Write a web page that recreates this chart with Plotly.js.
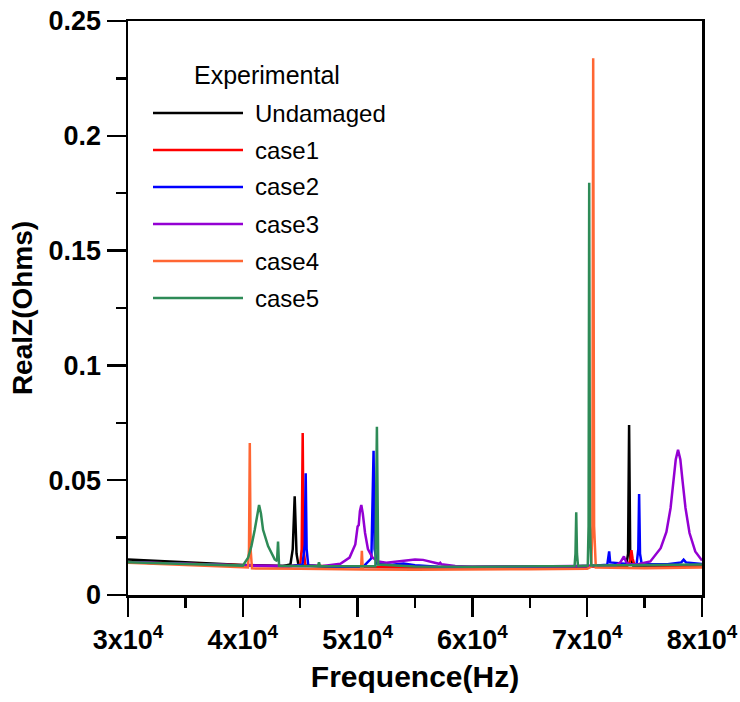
<!DOCTYPE html>
<html>
<head>
<meta charset="utf-8">
<script src="https://cdn.plot.ly/plotly-3.0.1.min.js"></script>
<style>html,body{margin:0;padding:0;background:#fff;}#chart{width:740px;height:702px;}</style>
</head>
<body>
<div id="chart"></div>
<script>
// ---- Data ----
var seriesNames = ["Undamaged", "case1", "case2", "case3", "case4", "case5"];
var seriesColors = ["#000000", "#ff0000", "#0000ff", "#9400d3", "#ff6633", "#2e8b57"];

var undamagedX = [30000, 35000, 40000, 43500, 44150, 44350, 44520, 44680, 44850, 47000, 50000, 55000, 60000, 65000, 70000, 73400, 73560, 73650, 73750, 74000, 77000, 80000];
var undamagedY = [0.0155, 0.0143, 0.0131, 0.0126, 0.0133, 0.020, 0.0430, 0.018, 0.0130, 0.0124, 0.0122, 0.0121, 0.0121, 0.0123, 0.0125, 0.0127, 0.018, 0.0740, 0.016, 0.0128, 0.0129, 0.0130];

var case1X = [30000, 35000, 40000, 44000, 45000, 45130, 45217, 45300, 45450, 50000, 55000, 60000, 65000, 70000, 73500, 73750, 73850, 73950, 74100, 77000, 80000];
var case1Y = [0.0143, 0.0136, 0.0128, 0.0125, 0.0132, 0.020, 0.0705, 0.020, 0.0128, 0.0122, 0.0121, 0.0121, 0.0122, 0.0124, 0.0127, 0.015, 0.0195, 0.016, 0.0132, 0.0129, 0.0130];

var case2X = [30000, 35000, 40000, 44000, 45200, 45400, 45478, 45560, 45700, 48000, 50500, 51200, 51391, 51480, 51700, 53000, 54000, 55000, 57000, 60000, 65000, 70000, 71750, 71850, 71913, 72000, 74300, 74450, 74522, 74600, 74750, 77000, 78200, 78400, 78600, 80000];
var case2Y = [0.0143, 0.0135, 0.0128, 0.0125, 0.0132, 0.022, 0.0530, 0.020, 0.0129, 0.0123, 0.0124, 0.016, 0.0628, 0.020, 0.0137, 0.0132, 0.0137, 0.0130, 0.0123, 0.0122, 0.0123, 0.0125, 0.0132, 0.0185, 0.0190, 0.0142, 0.0132, 0.020, 0.0440, 0.018, 0.0134, 0.0134, 0.0142, 0.0154, 0.0142, 0.0135];

var case3X = [30000, 35000, 40000, 44000, 47000, 48500, 49300, 49800, 50000, 50100, 50200, 50322, 50450, 50650, 50900, 51300, 51800, 52500, 53500, 54500, 55000, 55700, 56500, 57100, 57200, 57300, 58500, 60000, 65000, 70000, 72500, 72900, 73200, 73400, 73700, 74500, 75500, 76400, 76900, 77263, 77513, 77713, 77913, 78113, 78313, 78563, 78913, 79413, 80000];
var case3Y = [0.0143, 0.0135, 0.0128, 0.0125, 0.0126, 0.0136, 0.0163, 0.022, 0.0298, 0.0305, 0.0365, 0.0392, 0.0355, 0.027, 0.020, 0.0163, 0.0146, 0.0141, 0.0146, 0.0153, 0.0155, 0.0153, 0.0143, 0.0136, 0.0140, 0.0134, 0.0126, 0.0123, 0.0124, 0.0126, 0.0128, 0.0143, 0.0168, 0.0143, 0.0133, 0.0135, 0.0146, 0.0204, 0.0275, 0.0379, 0.0494, 0.0590, 0.0632, 0.0590, 0.0494, 0.0379, 0.0270, 0.0190, 0.0150];

var case4X = [30000, 35000, 40000, 40450, 40540, 40609, 40680, 40800, 45000, 50300, 50370, 50450, 55000, 60000, 65000, 70000, 70350, 70450, 70522, 70600, 70750, 75000, 80000];
var case4Y = [0.0141, 0.0130, 0.0120, 0.0120, 0.020, 0.0662, 0.020, 0.0116, 0.0114, 0.0111, 0.0193, 0.0111, 0.0110, 0.0110, 0.0112, 0.0114, 0.0123, 0.030, 0.2338, 0.030, 0.0120, 0.0117, 0.0120];

var case5X = [30000, 35000, 40000, 40460, 40750, 41040, 41250, 41417, 41580, 41765, 42200, 42780, 42980, 43070, 43160, 46550, 46636, 46720, 51550, 51681, 51800, 55000, 60000, 65000, 68900, 68980, 69044, 69110, 69200, 70050, 70120, 70174, 70240, 70350, 75000, 80000];
var case5Y = [0.0143, 0.0135, 0.0128, 0.0162, 0.0213, 0.0284, 0.0355, 0.0392, 0.0355, 0.0284, 0.0213, 0.0155, 0.0148, 0.0233, 0.0127, 0.0125, 0.0142, 0.0125, 0.0125, 0.0733, 0.0133, 0.0124, 0.0123, 0.0124, 0.0126, 0.018, 0.0360, 0.018, 0.0126, 0.0128, 0.030, 0.1795, 0.030, 0.0128, 0.0130, 0.0133];

var xTickVals = [30000, 40000, 50000, 60000, 70000, 80000];
var xTickText = ["3x10<sup>4</sup>", "4x10<sup>4</sup>", "5x10<sup>4</sup>", "6x10<sup>4</sup>", "7x10<sup>4</sup>", "8x10<sup>4</sup>"];
var yTickVals = [0, 0.05, 0.1, 0.15, 0.2, 0.25];
var yTickText = ["0", "0.05", "0.1", "0.15", "0.2", "0.25"];
var legendTitle = "Experimental";
var xTitle = "Frequence(Hz)";
var yTitle = "RealZ(Ohms)";

// ---- Build traces ----
var xs = [undamagedX, case1X, case2X, case3X, case4X, case5X];
var ys = [undamagedY, case1Y, case2Y, case3Y, case4Y, case5Y];
var traces = [];
for (var i = 0; i < seriesNames.length; i++) {
  traces.push({
    type: "scatter", mode: "lines", name: seriesNames[i],
    x: xs[i], y: ys[i],
    line: {color: seriesColors[i], width: 2.5},
    showlegend: false, hoverinfo: "skip"
  });
}

var FONT = "Liberation Sans, Arial, Helvetica, sans-serif";
var W = 740, H = 702;
var mL = 128, mR = 38, mT = 21, mB = 107;
var pw = W - mL - mR, ph = H - mT - mB;
function px2paperX(p) { return (p - mL) / pw; }
function px2paperY(p) { return (H - mB - p) / ph; }

// ---- Custom legend (long line samples) ----
var shapes = [], annotations = [];
annotations.push({
  xref: "paper", yref: "paper", x: px2paperX(192), y: px2paperY(75),
  xanchor: "left", yanchor: "middle", showarrow: false, text: legendTitle,
  font: {family: FONT, size: 25, color: "#000"}
});
for (var k = 0; k < seriesNames.length; k++) {
  var yy = px2paperY(113 + 37 * k);
  shapes.push({
    type: "line", xref: "paper", yref: "paper",
    x0: px2paperX(153), x1: px2paperX(243), y0: yy, y1: yy,
    line: {color: seriesColors[k], width: 2.5}
  });
  annotations.push({
    xref: "paper", yref: "paper", x: px2paperX(253), y: yy,
    xanchor: "left", yanchor: "middle", showarrow: false, text: seriesNames[k],
    font: {family: FONT, size: 24, color: "#000"}
  });
}

var axisCommon = {
  showline: true, linecolor: "#000", linewidth: 2.5, mirror: true,
  ticks: "outside", ticklen: 19, tickwidth: 2.5, tickcolor: "#000",
  showgrid: false, zeroline: false,
  tickfont: {family: FONT, size: 27, color: "#000", weight: "bold"}
};

var layout = {
  width: W, height: H,
  margin: {l: mL, r: mR, t: mT, b: mB, pad: 0},
  paper_bgcolor: "#fff", plot_bgcolor: "#fff",
  showlegend: false,
  xaxis: Object.assign({}, axisCommon, {
    range: [30000, 80000], tickmode: "array", tickvals: xTickVals, ticktext: xTickText,
    minor: {dtick: 5000, ticks: "outside", ticklen: 10, tickwidth: 2.5, tickcolor: "#000", showgrid: false},
    title: {text: xTitle, font: {family: FONT, size: 30, color: "#000", weight: "bold"}, standoff: 12}
  }),
  yaxis: Object.assign({}, axisCommon, {
    range: [0, 0.25], tickmode: "array", tickvals: yTickVals, ticktext: yTickText,
    minor: {dtick: 0.025, ticks: "outside", ticklen: 10, tickwidth: 2.5, tickcolor: "#000", showgrid: false},
    title: {text: yTitle, font: {family: FONT, size: 28, color: "#000", weight: "bold"}, standoff: 8}
  }),
  shapes: shapes,
  annotations: annotations
};

Plotly.newPlot("chart", traces, layout, {displayModeBar: false, staticPlot: true});
</script>
</body>
</html>
